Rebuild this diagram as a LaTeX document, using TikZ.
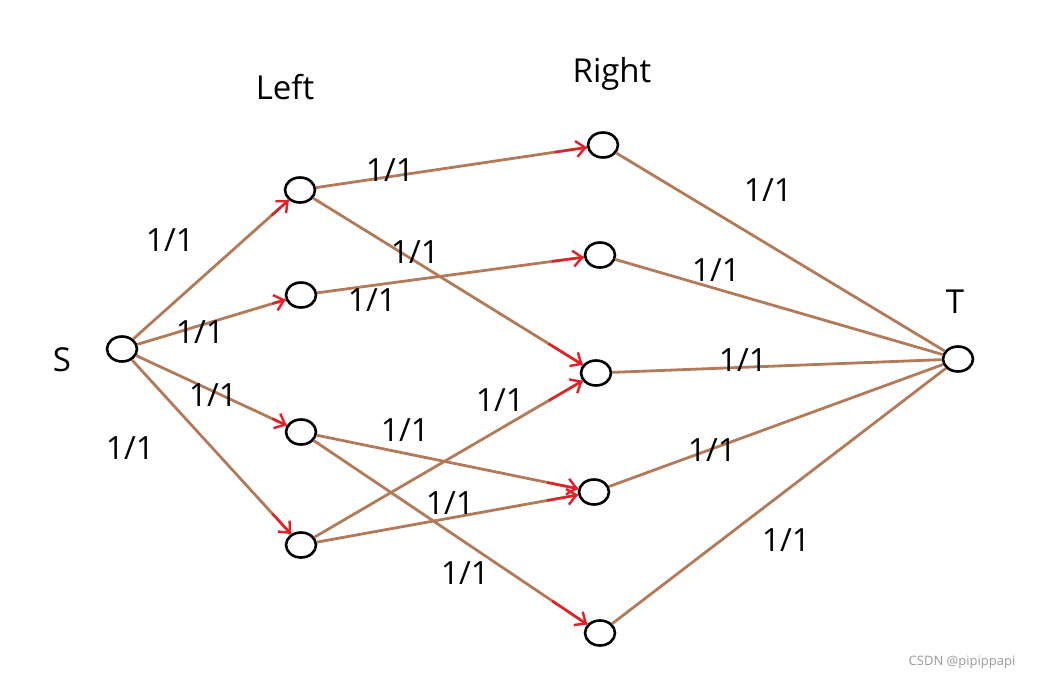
\documentclass[tikz,border=0pt]{standalone}
\usepackage{fontspec}
\setmainfont{Open Sans}
\usetikzlibrary{calc,arrows.meta,shapes.geometric}
\definecolor{br}{RGB}{178,122,88}
\definecolor{rd}{RGB}{230,30,40}
\begin{document}
\begin{tikzpicture}[x=1pt,y=-1pt,
 v/.style={draw=black,line width=2.6pt,ellipse,minimum width=30pt,minimum height=25pt,inner sep=0pt},
 e/.style={draw=br,line width=2.8pt},
 ra/.style={draw=rd,line width=2.4pt,-{Straight Barb[length=9pt,width=16pt]}},
 lb/.style={font=\fontsize{32}{36}\selectfont},
 w/.style={font=\fontsize{33}{38}\selectfont}]
\useasboundingbox (0,0) rectangle (1052,683);
\node[v] (S) at (122,349) {};
\node[v] (L1) at (300,190) {};
\node[v] (L2) at (301,295) {};
\node[v] (L3) at (301,432) {};
\node[v] (L4) at (301,545) {};
\node[v] (R1) at (603,145) {};
\node[v] (R2) at (600,255) {};
\node[v] (R3) at (596,373) {};
\node[v] (R4) at (594,492) {};
\node[v] (R5) at (600,633) {};
\node[v] (T) at (958,359) {};
\node[w] (s) at (62,360) {S};
\node[w] (t) at (955,302) {T};
\node[w] (left) at (285,87) {Left};
\node[w] (right) at (612,74) {Right};
\foreach \a/\b in {S/L1,S/L2,S/L3,S/L4,L1/R1,L1/R3,L2/R2,L3/R4,L3/R5,L4/R3,L4/R4,R1/T,R2/T,R3/T,R4/T,R5/T}
  \draw[e] (\a) -- (\b);
\foreach \a/\b in {S/L1,S/L2,S/L3,S/L4,L1/R1,L1/R3,L2/R2,L3/R4,L3/R5,L4/R3,L4/R4}
  \draw[ra] ($(\a)!0.84!(\b)$) -- (\b);
\foreach \p/\q [count=\i] in {170/240,200/332,213/395,130/448,390/170,415/252,372/300,405/430,500/400,450/503,465/573,768/190,716/270,743/360,712/450,786/540}
  \node[lb] (l\i) at (\p,\q) {1/1};
\node[text=black!40,font=\fontsize{13}{15}\selectfont] (wm) at (962,662) {CSDN @pipippapi};
\end{tikzpicture}
\end{document}
